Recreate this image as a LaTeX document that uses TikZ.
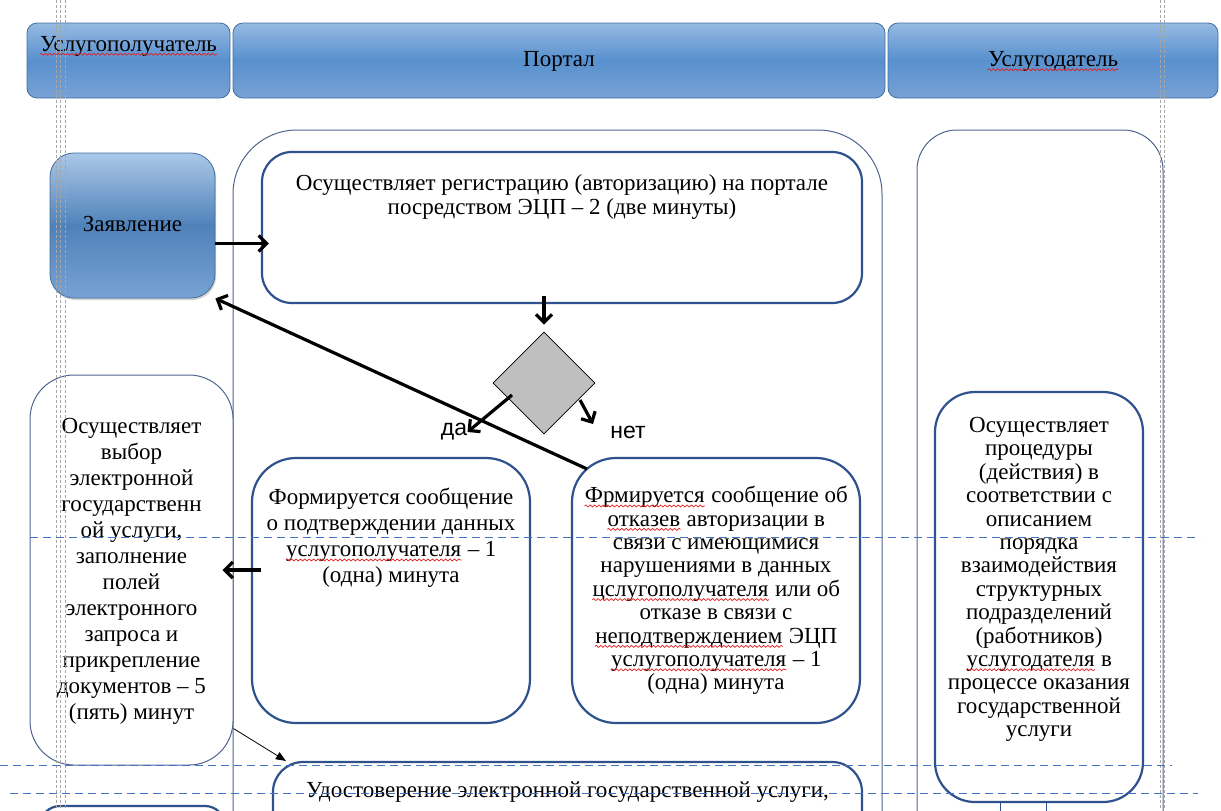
\documentclass[tikz,border=0pt]{standalone}
\usepackage{fontspec}
\setmainfont{Liberation Serif}
\newfontfamily\labelfont{Liberation Sans}
\usepackage{xcolor}
\usepackage{tikz}
\usetikzlibrary{arrows.meta,positioning,shapes.geometric,fit,shadows,decorations.pathmorphing}
\definecolor{hdtop}{RGB}{150,186,226}
\definecolor{hdmid}{RGB}{88,144,206}
\definecolor{hdbot}{RGB}{120,162,212}
\definecolor{hdedge}{RGB}{66,110,160}
\definecolor{procblue}{RGB}{47,82,143}
\definecolor{laneline}{RGB}{80,100,145}
\definecolor{guideblue}{RGB}{68,114,196}
\definecolor{spellred}{RGB}{225,30,30}

% red wavy underline (spell check marks)
\newcommand{\spellmark}[1]{\tikz[baseline=(w.base)]{\node[inner sep=0pt] (w) {#1};
  \draw[spellred, line width=0.35pt, sharp corners, decorate,
    decoration={snake, amplitude=0.5pt, segment length=2.2pt}]
    ([yshift=-1.6pt]w.base west) -- ([yshift=-1.6pt]w.base east);}}

\begin{document}
\begin{tikzpicture}[x=0.5pt,y=-0.5pt,
  font=\fontsize{11.5}{13}\selectfont,
  lanehead/.style={draw=hdedge, rounded corners=5pt, top color=hdtop,
    bottom color=hdbot, middle color=hdmid, inner sep=0pt},
  lane/.style={draw=laneline, line width=0.5pt, inner sep=0pt},
  procbox/.style={draw=procblue, line width=1.1pt, fill=white, inner sep=0pt},
  boxtext/.style={inner sep=0pt, align=center},
  tag/.style={inner sep=0pt, font=\labelfont\fontsize{11.5}{13}\selectfont},
  flow/.style={line width=1.6pt, -{Straight Barb[length=4pt,width=8pt,line width=1.6pt]}},
  guide/.style={guideblue, line width=0.5pt, dash pattern=on 4pt off 2.5pt},
  margin/.style={gray!70, line width=0.4pt, dash pattern=on 1.5pt off 1pt}]

  \fill[white] (0,0) rectangle (1221,810);
  \useasboundingbox (0,0) rectangle (1221,810);
  \clip (0,0) rectangle (1221,810);

  % lane heads
  \node (hCl) [lanehead, fit={(27,23) (230,98)}] {};
  \node (hPo) [lanehead, fit={(233,23) (885,98)}] {};
  \node (hPr) [lanehead, fit={(888,23) (1218,98)}] {};
  \node (tCl) [boxtext, below=6.5pt of hCl.north] {\spellmark{Услугополучатель}};
  \node (tPo) [boxtext, anchor=base] at ([yshift=-3pt]hPo.center) {Портал};
  \node (tPr) [boxtext, anchor=base] at ([yshift=-3pt]hPr.center) {\spellmark{Услугодатель}};

  % lanes
  \node (lPo) [lane, rounded corners=32pt, fit={(233,130) (882,900)}] {};
  \node (lPr) [lane, rounded corners=20pt, fit={(917,130) (1163,900)}] {};

  % steps
  \node (app) [draw=hdedge, rounded corners=12pt, top color=hdtop!80!white,
    bottom color=hdbot, middle color=hdmid!90!black, inner sep=0pt,
    drop shadow={shadow xshift=0.6pt, shadow yshift=-1pt, opacity=0.35},
    fit={(50,153) (215,298)}] {};
  \node (appT) [boxtext, anchor=base] at ([yshift=-3pt]app.center) {Заявление};
  \node (reg) [procbox, rounded corners=15pt, fit={(262,152) (862,303)}] {};
  \node (regT) [boxtext, font=\fontsize{11.5}{12}\selectfont, below=11.5pt of reg.north]
    {Осуществляет регистрацию (авторизацию) на портале\\посредством ЭЦП -- 2 (две минуты)};
  \node (dec) [diamond, draw, thin, fill=black!25, minimum width=51pt,
    minimum height=51pt, inner sep=0pt] at (544,383) {};
  \node (yes) [tag] at (454,432) {да};
  \node (no) [tag] at (628,432) {нет};
  \coordinate (noTip) at (593,424);

  \node (conf) [procbox, rounded corners=22pt, fit={(252,458) (530,723)}] {};
  \node (confT) [boxtext, below=15.5pt of conf.north]
    {Формируется сообщение\\о подтверждении данных\\\spellmark{услугополучателя} -- 1\\(одна) минута};
  \node (deny) [procbox, rounded corners=22pt, fit={(572,458) (860,723)}] {};
  \node (denyT) [boxtext, font=\fontsize{11.5}{11.7}\selectfont, below=14.5pt of deny.north]
    {\spellmark{Фрмируется} сообщение об\\\spellmark{отказев} авторизации в\\связи с имеющимися\\нарушениями в данных\\\spellmark{цслугополучателя} или об\\отказе в связи с\\\spellmark{неподтверждением} ЭЦП\\\spellmark{услугополучателя} -- 1\\(одна) минута};

  \node (pick) [lane, fill=white, rounded corners=22pt, fit={(30,375) (233,765)}] {};
  \node (pickT) [boxtext, below=21.5pt of pick.north]
    {Осуществляет\\выбор\\электронной\\государственн\\ой услуги,\\заполнение\\полей\\электронного\\запроса и\\прикрепление\\документов -- 5\\(пять) минут};

  \node (work) [procbox, rounded corners=20pt, fit={(935,392) (1143,802)}] {};
  \node (workT) [boxtext, font=\fontsize{11.5}{11.7}\selectfont, below=13pt of work.north]
    {Осуществляет\\процедуры\\(действия) в\\соответствии с\\описанием\\порядка\\взаимодействия\\структурных\\подразделений\\(работников)\\\spellmark{услугодателя} в\\процессе оказания\\государственной\\услуги};

  \node (cert) [procbox, rounded corners=15pt, fit={(273,762) (862,900)}] {};
  \node (certT) [boxtext, below=10pt of cert.north] {Удостоверение электронной государственной услуги,};
  \node (nxt) [procbox, rounded corners=10pt, fit={(40,806) (225,900)}] {};

  % connectors
  \draw[flow, shorten >=-4pt] ([yshift=-9pt]app.east) -- ([yshift=-9pt]app.east -| reg.west);
  \draw[flow, shorten <=-4pt, shorten >=3.5pt] (dec.north |- reg.south) -- (dec.north);
  \draw[flow] ([shift={(-16pt,-6pt)}]dec.center) -- (yes.east);
  \draw[flow] ([shift={(18pt,-8.5pt)}]dec.center) -- (noTip);
  \draw[flow] ([shift={(8pt,-6pt)}]deny.north west) -- (app.south east);
  \draw[flow, shorten <=-5pt, shorten >=-5.5pt] (conf.west |- pick.east) -- (pick.east);
  \draw[thin, -{Triangle[length=5pt,width=4pt]}] ([yshift=18.5pt]pick.south east) -- ([xshift=7pt]cert.north west);
  \draw[thin, procblue] ([xshift=-19.5pt]work.south) -- ++(0,20);
  \draw[thin, procblue] ([xshift=3.5pt]work.south) -- ++(0,20);

  % guide lines
  \foreach \gx in {56,60,65,1160,1164} {
    \draw[margin] (\gx,0) -- (\gx,810);
  }
  \draw[guide] (30,537) -- (1200,537);
  \draw[guide] (0,765) -- (1172,765);
  \draw[guide] (10,793) -- (1198,793);
\end{tikzpicture}
\end{document}
